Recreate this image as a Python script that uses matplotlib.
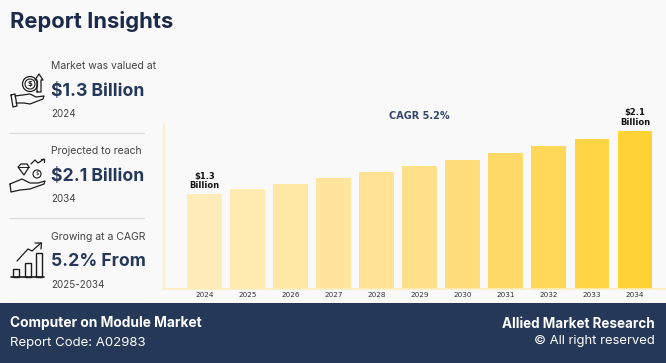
import matplotlib
matplotlib.use("Agg")
import matplotlib.pyplot as plt
from matplotlib.patches import Rectangle, Circle, Polygon
from matplotlib.colors import LinearSegmentedColormap

years = ["2024", "2025", "2026", "2027", "2028", "2029", "2030", "2031", "2032", "2033", "2034"]
market = [1.30, 1.37, 1.43, 1.51, 1.58, 1.66, 1.73, 1.82, 1.91, 2.00, 2.10]
first_label = "$1.3\nBillion"
last_label = "$2.1\nBillion"

W, H = 666, 363
BG = "#f9f9fa"
NAVY = "#253858"
FONT = "Inter"
ICON = "#1c1c1c"

fig = plt.figure(figsize=(W / 100, H / 100), dpi=100, facecolor=BG)

# page furniture in pixel coords
page = fig.add_axes([0, 0, 1, 1])
page.set_xlim(0, W)
page.set_ylim(H, 0)
page.axis("off")

page.text(10, 21.5, "Report Insights", fontsize=15.8, fontweight="bold", color="#1b2a4a",
          family=FONT, va="center")

blocks = [
    (66, "Market was valued at", 91.5, "$1.3 Billion", 114, "2024"),
    (151, "Projected to reach", 176.5, "$2.1 Billion", 199.5, "2034"),
    (237, "Growing at a CAGR", 262, "5.2% From", 284.5, "2025-2034"),
]
for y1, s1, y2, s2, y3, s3 in blocks:
    page.text(51, y1, s1, fontsize=7.5, color="#444444", family=FONT, va="center")
    page.text(51, y2, s2, fontsize=12.7, fontweight="bold", color=NAVY, family=FONT, va="center")
    page.text(51, y3, s3, fontsize=7.1, color="#444444", family=FONT, va="center")

for y in [132.5, 217.5, 302.5]:
    page.plot([10, 144], [y, y], color="#dcdcdc", lw=0.9)


def line(xs, ys, lw=0.9):
    page.plot(xs, ys, color=ICON, lw=lw, solid_capstyle="round", solid_joinstyle="round")


# icon 1: hand, coin, arrow
line([15, 30, 36, 44, 43, 30, 24, 16], [96, 94, 97, 96, 99, 104, 103, 103])
line([11, 15, 17, 13, 11], [95, 94, 106, 107, 95])
page.add_patch(Circle((30, 84), 7.5, fill=False, ec=ICON, lw=0.9))
page.add_patch(Circle((30, 84), 5, fill=False, ec=ICON, lw=0.8))
page.text(30, 84, "$", fontsize=5, color=ICON, ha="center", va="center", fontweight="bold")
line([37, 37, 35, 39, 43, 41, 41, 37], [92, 80, 80, 74, 80, 80, 92, 92])

# icon 2: hand, diamond, coin, arrow
line([10, 22, 30, 38, 45, 44, 30, 20, 11, 10], [184, 179, 183, 183, 181, 184, 189, 190, 192, 184])
page.add_patch(Polygon([(18, 167), (21, 164), (27, 164), (29, 167), (24, 175)], fill=False, ec=ICON, lw=0.9))
line([18, 29], [167, 167], lw=0.7)
page.add_patch(Circle((37, 174), 4, fill=False, ec=ICON, lw=0.8))
page.text(37, 174, "$", fontsize=4, color=ICON, ha="center", va="center")
line([31, 35, 38, 44], [164, 160, 163, 159])
line([41, 44, 44], [159, 159, 162])

# icon 3: rising bars and arrow
line([11, 44], [277, 277], lw=1.2)
for x0, top in [(13, 269), (25, 263), (36, 253)]:
    page.add_patch(Rectangle((x0, top), 5.5, 277 - top, fill=False, ec=ICON, lw=1.0))
line([17, 28, 32, 41], [261, 249, 251, 243])
line([35, 41.5, 41], [243, 243, 249])

# footer band
page.add_patch(Rectangle((0, 303), W, H - 303, fc=NAVY, ec="none", zorder=3))
page.text(10, 323.5, "Computer on Module Market", fontsize=9.9, fontweight="bold", color="white",
          family=FONT, va="center", zorder=4)
page.text(10, 343, "Report Code: A02983", fontsize=9.5, color="white", family=FONT, va="center", zorder=4)
page.text(655, 324, "Allied Market Research", fontsize=9.7, fontweight="bold", color="white",
          family=FONT, va="center", ha="right", zorder=4)
page.text(655, 341, "© All right reserved", fontsize=9.4, color="white", family=FONT,
          va="center", ha="right", zorder=4)

# bar chart
ax = fig.add_axes([164 / W, 1 - 288.5 / H, (W - 164) / W, 165.5 / H])
ax.patch.set_alpha(0)
cmap = LinearSegmentedColormap.from_list("amber", ["#ffecb9", "#ffe08a", "#ffd235"])
n = len(years)
x = list(range(n))
bars = ax.bar(x, market, width=0.81, color=[cmap(i / (n - 1)) for i in x], linewidth=0)
ax.set_xlim(-0.94, 10.72)
ax.set_ylim(0.116, 2.2)
ax.set_xticks(x)
ax.set_xticklabels(years, fontsize=5.2, color="#333333")
ax.tick_params(axis="x", length=0, pad=2.2)
ax.set_yticks([])
for s in ["top", "right"]:
    ax.spines[s].set_visible(False)
for s in ["left", "bottom"]:
    ax.spines[s].set_color("#ffeebb")
    ax.spines[s].set_linewidth(1.2)

ax.annotate(first_label, (0, market[0]), xytext=(0, 3), textcoords="offset points", ha="center", va="bottom",
            fontsize=6, fontweight="bold", color="#111111", linespacing=1.05)
ax.annotate(last_label, (10, market[-1]), xytext=(0, 3), textcoords="offset points", ha="center", va="bottom",
            fontsize=6, fontweight="bold", color="#111111", linespacing=1.05)

page.text(419.5, 116, "CAGR 5.2%", fontsize=7, fontweight="bold", color="#34466b", ha="center", va="center")

fig.savefig("out.png", dpi=100, facecolor=BG)
